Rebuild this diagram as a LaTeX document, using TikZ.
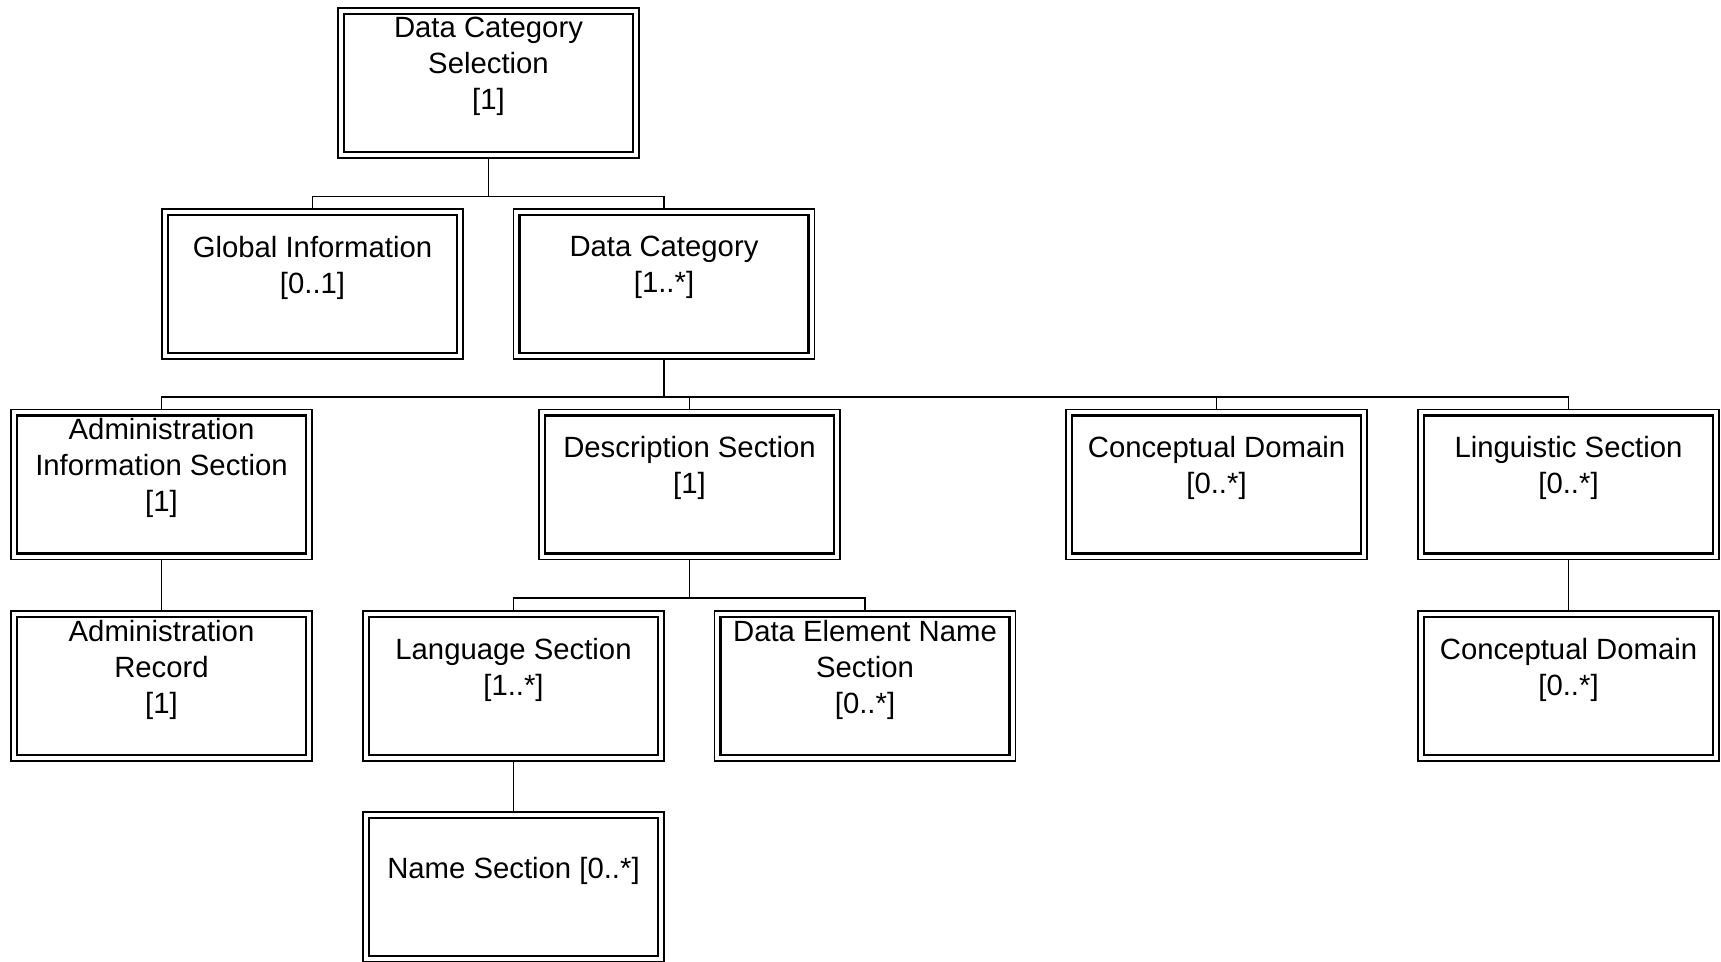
\documentclass[tikz,border=0pt]{standalone}
\usepackage{fontspec}
\setmainfont{Liberation Sans}
\begin{document}
\begin{tikzpicture}[x=1pt,y=-1pt,
  dbox/.style={draw=black,line width=1.4pt,minimum width=301pt,minimum height=150pt,
    inner sep=0pt,outer sep=0pt,
    path picture={\draw[line width=2.4pt]
      ([shift={(6pt,6pt)}]path picture bounding box.south west) rectangle
      ([shift={(-6pt,-6pt)}]path picture bounding box.north east);}},
  txt/.style={align=center,inner sep=0pt,font=\fontsize{29.3}{36}\selectfont},
  conn/.style={draw=black,line width=1.8pt}]
\useasboundingbox (0,0) rectangle (1721,961);

% boxes
\node[dbox] (dcs)  at (488.5,83)  {};
\node[dbox] (gi)   at (312.5,284) {};
\node[dbox] (dc)   at (664,284)   {};
\node[dbox] (ais)  at (161.5,484.5) {};
\node[dbox] (ds)   at (689.5,484.5) {};
\node[dbox] (cd)   at (1216.5,484.5) {};
\node[dbox] (ls)   at (1568.5,484.5) {};
\node[dbox] (ar)   at (161.5,686) {};
\node[dbox] (lang) at (513.5,686) {};
\node[dbox] (den)  at (865,686)   {};
\node[dbox] (cd2)  at (1568.5,686) {};
\node[dbox] (ns)   at (513.5,887) {};

% labels
\node[txt] (tdcs)  at ([yshift=16.5pt]dcs.center)  {Data Category\\Selection\\{[1]}};
\node[txt] (tgi)   at ([yshift=16.5pt]gi.center)   {Global Information\\{[0..1]}};
\node[txt] (tdc)   at ([yshift=16.5pt]dc.center)   {Data Category\\{[1..*]}};
\node[txt] (tais)  at ([yshift=16.5pt]ais.center)  {Administration\\Information Section\\{[1]}};
\node[txt] (tds)   at ([yshift=16.5pt]ds.center)   {Description Section\\{[1]}};
\node[txt] (tcd)   at ([yshift=16.5pt]cd.center)   {Conceptual Domain\\{[0..*]}};
\node[txt] (tls)   at ([yshift=16.5pt]ls.center)   {Linguistic Section\\{[0..*]}};
\node[txt] (tar)   at ([yshift=16.5pt]ar.center)   {Administration\\Record\\{[1]}};
\node[txt] (tlang) at ([yshift=16.5pt]lang.center) {Language Section\\{[1..*]}};
\node[txt] (tden)  at ([yshift=16.5pt]den.center)  {Data Element Name\\Section\\{[0..*]}};
\node[txt] (tcd2)  at ([yshift=16.5pt]cd2.center)  {Conceptual Domain\\{[0..*]}};
\node[txt] (tns)   at ([yshift=16.5pt]ns.center)   {Name Section [0..*]};

% bus levels
\coordinate (b1) at (0,196.5);
\coordinate (b2) at (0,397);
\coordinate (b3) at (0,598);

% connectors
\draw[conn] (dcs.south) -- (dcs.south |- b1) -| (gi.north);
\draw[conn] (dcs.south |- b1) -| (dc.north);

\draw[conn] (dc.south) -- (dc.south |- b2) -| (ais.north);
\draw[conn] (dc.south |- b2) -| (ds.north);
\draw[conn] (dc.south |- b2) -| (cd.north);
\draw[conn] (dc.south |- b2) -| (ls.north);

\draw[conn] (ais.south) -- (ar.north);
\draw[conn] (ds.south) -- (ds.south |- b3) -| (lang.north);
\draw[conn] (ds.south |- b3) -| (den.north);
\draw[conn] (lang.south) -- (ns.north);
\draw[conn] (ls.south) -- (cd2.north);
\end{tikzpicture}
\end{document}
